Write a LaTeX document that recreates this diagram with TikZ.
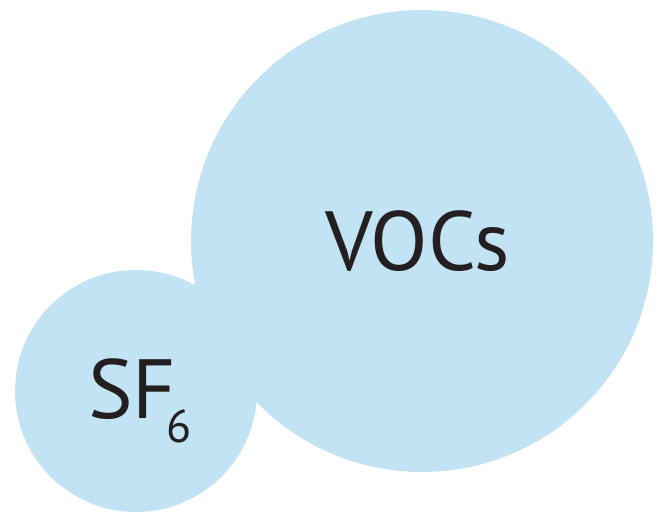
\documentclass[tikz,border=0pt]{standalone}
\usepackage{fontspec}
\setmainfont{PT Sans}
\definecolor{bub}{HTML}{C2E3F3}
\definecolor{ink}{HTML}{231F20}
\begin{document}
\begin{tikzpicture}[x=1pt,y=-1pt,
  bubble/.style={circle,fill=bub,draw=none,inner sep=0pt},
  lbl/.style={text=ink,inner sep=0pt,font=\fontsize{84}{84}\selectfont}]
\useasboundingbox (0,0) rectangle (661,513);
\node[bubble,minimum size=462pt] (voc) at (422,241) {};
\node[bubble,minimum size=242pt] (sf) at (136,391) {};
\node[lbl,anchor=base west] (voct) at (325,270) {VOCs};
\node[lbl,anchor=base west] (sft) at (88,418) {SF\kern-10pt\raisebox{-24pt}{\fontsize{46}{46}\selectfont 6}};
\end{tikzpicture}
\end{document}
